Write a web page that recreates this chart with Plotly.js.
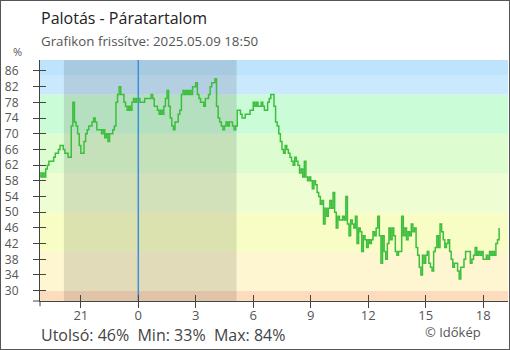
<!DOCTYPE html>
<html>
<head>
<meta charset="utf-8">
<script src="https://cdn.plot.ly/plotly-3.0.1.min.js"></script>
<style>
html,body{margin:0;padding:0;background:#fff;}
#wrap{position:relative;width:510px;height:350px;}
#chart{width:510px;height:350px;}
#frame{position:absolute;left:0;top:0;width:510px;height:350px;box-sizing:border-box;border:1px solid #555;pointer-events:none;}
</style>
</head>
<body>
<div id="wrap"><div id="chart"></div><div id="frame"></div></div>
<script>
// ---- data ----
const startTime = '2025-05-08T18:50:00';
const stepMinutes = 5;
const humidity = [
  60,59,60,59,61,62,63,63,63,64,65,65,66,67,67,
  66,65,65,64,64,72,78,73,72,70,67,65,65,68,70,
  71,72,72,73,74,73,71,71,71,70,71,69,70,68,70,70,71,72,
  78,80,82,80,80,78,77,76,77,76,78,79,78,79,79,
  78,78,78,79,79,79,79,80,79,77,77,76,75,76,75,77,79,81,
  77,74,72,71,73,73,75,76,80,81,80,81,80,81,80,82,82,83,
  80,79,78,78,77,79,79,80,82,83,83,84,77,74,73,72,71,72,
  73,72,73,73,72,71,72,76,76,75,74,74,75,75,75,76,76,78,
  77,78,77,77,78,77,76,76,78,79,80,80,77,73,72,70,68,66,
  65,67,66,65,64,63,62,64,63,62,60,61,59,63,59,58,59,58,
  56,58,57,55,54,52,53,47,51,49,51,53,51,55,50,46,49,48,
  48,49,48,54,47,44,48,47,46,49,42,46,45,40,44,43,41,43,
  42,43,45,44,46,49,44,37,44,40,38,42,46,43,46,44,40,39,
  40,40,49,44,46,43,45,44,47,45,46,41,39,36,34,39,37,39,
  40,37,36,35,40,41,44,41,47,45,43,41,42,43,40,38,36,37,
  37,35,33,36,36,38,40,40,40,37,38,39,41,39,40,39,40,38,
  38,39,38,40,39,40,39,42,43,46
];
const xTickTimes = ['2025-05-08 21:00','2025-05-09 00:00','2025-05-09 03:00','2025-05-09 06:00',
                    '2025-05-09 09:00','2025-05-09 12:00','2025-05-09 15:00','2025-05-09 18:00'];
const xTickLabels = ['21','0','3','6','9','12','15','18'];
const yTicks = [30,34,38,42,46,50,54,58,62,66,70,74,78,82,86];
const bandEdges = [20,30,40,50,60,70,80,85,100];
const bandColors = ['#fddcbd','#fef6d1','#f7fdc5','#eefdd2','#ddfdd1','#cbfcd8','#cbe9fd','#bde3fd'];
const sunset = '2025-05-08 20:07';
const sunrise = '2025-05-09 05:08';
const midnight = '2025-05-09 00:00';
const titleText = 'Palotás - Páratartalom';
const subtitleText = 'Grafikon frissítve: 2025.05.09 18:50';
const statsText = 'Utolsó: 46%\u00a0\u00a0Min: 33%\u00a0\u00a0Max: 84%';
const creditText = '© Időkép';

// timestamps (regular sampling)
function fmt(d){
  const p=n=>String(n).padStart(2,'0');
  return d.getFullYear()+'-'+p(d.getMonth()+1)+'-'+p(d.getDate())+' '+p(d.getHours())+':'+p(d.getMinutes());
}
const t0 = new Date(startTime);
const times = humidity.map((_,i)=>fmt(new Date(t0.getTime()+i*stepMinutes*60000)));

const FONT = 'Open Sans, Noto Sans, sans-serif';
const xRange = ['2025-05-08 18:52:08','2025-05-09 19:17:53'];
const yRange = [27.37, 88.8];

const shapes = [];
for (let i=0;i<bandColors.length;i++){
  shapes.push({type:'rect',xref:'paper',yref:'y',x0:0,x1:1,y0:bandEdges[i],y1:bandEdges[i+1],
    fillcolor:bandColors[i],line:{width:0},layer:'below'});
}
shapes.push({type:'rect',xref:'x',yref:'paper',x0:sunset,x1:sunrise,y0:0,y1:1,
  fillcolor:'rgba(0,0,0,0.11)',line:{width:0},layer:'below'});
shapes.push({type:'line',xref:'x',yref:'paper',x0:midnight,x1:midnight,y0:0,y1:1,
  line:{color:'#3d8fd9',width:1.5},layer:'below'});
// axis line extensions beyond the corner
shapes.push({type:'line',xref:'paper',yref:'paper',x0:-0.015,x1:0,y0:0,y1:0,line:{color:'#444',width:1}});
shapes.push({type:'line',xref:'paper',yref:'paper',x0:0,x1:0,y0:0,y1:-0.022,line:{color:'#444',width:1}});

const traces = [
  {x:times,y:humidity,type:'scatter',mode:'lines',line:{color:'#3dbf3d',width:1.5,shape:'hv'},hoverinfo:'skip'},
  {x:[times[0]],y:[humidity[0]],type:'scatter',mode:'none',xaxis:'x2',yaxis:'y2',hoverinfo:'skip',showlegend:false}
];

const axCommon = {showgrid:false,zeroline:false,tickcolor:'#444',ticklen:6,tickwidth:1,
  tickfont:{family:FONT,size:13,color:'#555'}};

const layout = {
  width:510,height:350,
  margin:{l:40,r:2,t:60,b:49,pad:0},
  paper_bgcolor:'#fff',plot_bgcolor:'#fff',
  showlegend:false,
  font:{family:FONT},
  xaxis:Object.assign({},axCommon,{type:'date',range:xRange,tickmode:'array',tickvals:xTickTimes,ticktext:xTickLabels,
    ticks:'inside',showline:true,linecolor:'#444',linewidth:1,ticklabelstandoff:2,fixedrange:true}),
  yaxis:Object.assign({},axCommon,{range:yRange,tickmode:'array',tickvals:yTicks,ticks:'inside',
    showline:true,linecolor:'#444',linewidth:1,ticklabelstandoff:18,fixedrange:true,
    tickfont:{family:FONT,size:12,color:'#555'}}),
  xaxis2:Object.assign({},axCommon,{type:'date',overlaying:'x',matches:'x',range:xRange,tickmode:'array',tickvals:xTickTimes,
    ticks:'outside',showticklabels:false,showline:false,side:'bottom'}),
  yaxis2:Object.assign({},axCommon,{overlaying:'y',range:yRange,tickmode:'array',tickvals:yTicks,
    ticks:'outside',showticklabels:false,showline:false,side:'left'}),
  shapes:shapes,
  annotations:[
    {text:titleText,xref:'paper',yref:'paper',x:-0.003,y:1.174,xanchor:'left',yanchor:'middle',showarrow:false,
      font:{family:FONT,size:16,color:'#222'}},
    {text:subtitleText,xref:'paper',yref:'paper',x:-0.003,y:1.079,xanchor:'left',yanchor:'middle',showarrow:false,
      font:{family:FONT,size:13.3,color:'#555'}},
    {text:'%',xref:'paper',yref:'paper',x:-0.049,y:1.037,xanchor:'center',yanchor:'middle',showarrow:false,
      font:{family:FONT,size:11,color:'#555'}},
    {text:statsText,xref:'paper',yref:'paper',x:-0.003,y:-0.14,xanchor:'left',yanchor:'middle',showarrow:false,
      font:{family:FONT,size:16,color:'#444'}},
    {text:creditText,xref:'paper',yref:'paper',x:0.8825,y:-0.128,xanchor:'center',yanchor:'middle',showarrow:false,
      font:{family:FONT,size:13,color:'#555'}}
  ]
};

Plotly.newPlot('chart',traces,layout,{staticPlot:true,displayModeBar:false});
</script>
</body>
</html>
